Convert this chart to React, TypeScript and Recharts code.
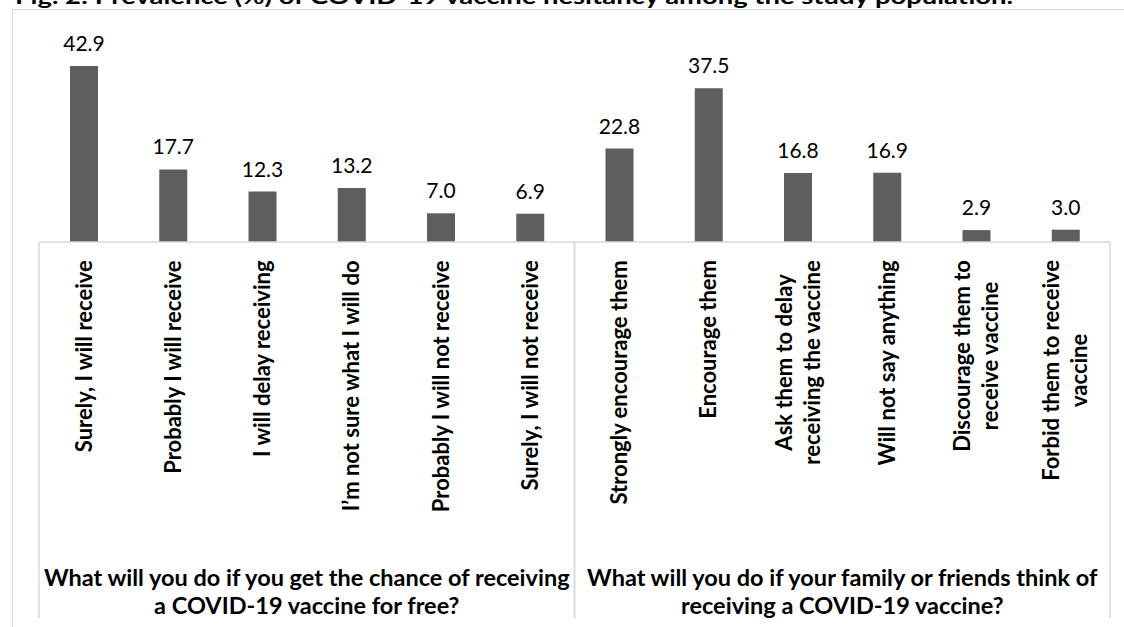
import { BarChart, Bar, XAxis, YAxis, LabelList } from 'recharts'

const categories: string[][] = [
  ['Surely, I will receive'],
  ['Probably I will receive'],
  ['I will delay receiving'],
  ['I\u2019m not sure what I will do'],
  ['Probably I will not receive'],
  ['Surely, I will not receive'],
  ['Strongly encourage them'],
  ['Encourage them'],
  ['Ask them to delay', 'receiving the vaccine'],
  ['Will not say anything'],
  ['Discourage them to', 'receive vaccine'],
  ['Forbid them to receive', 'vaccine'],
]

const values = [42.9, 17.7, 12.3, 13.2, 7.0, 6.9, 22.8, 37.5, 16.8, 16.9, 2.9, 3.0]

const groups: string[][] = [
  ['What will you do if you get the chance of receiving', 'a COVID-19 vaccine for free?'],
  ['What will you do if your family or friends think of', 'receiving a COVID-19 vaccine?'],
]
const groupSizes = [6, 6]

const title = 'Fig. 2: Prevalence (%) of COVID-19 vaccine hesitancy among the study population.'

const groupOf: number[] = groupSizes.flatMap((n, g) => Array(n).fill(g))

const data = categories.map((lines, i) => ({
  name: lines.join(' '),
  group: groups[groupOf[i]].join(' '),
  value: values[i],
}))

// layout
const W = 1124
const H = 627
const PLOT_LEFT = 39
const PLOT_RIGHT = 1110
const AXIS_Y = 242
const LINE_BOTTOM = 618
const LABEL_TOP = 260
const TICK_FS = 22
const GROUP_FS = 23.5
const FONT = 'Lato, "Noto Sans", sans-serif'
const GROUP_W = (PLOT_RIGHT - PLOT_LEFT) / groupSizes.length

let ctx: CanvasRenderingContext2D | null = null
const measure = (text: string, font: string) => {
  if (!ctx) ctx = document.createElement('canvas').getContext('2d')
  if (!ctx) return text.length * 10
  ctx.font = font
  return ctx.measureText(text).width
}

const CategoryTick = ({ x, payload }: any) => {
  const lines = categories[payload.index] ?? [String(payload.value)]
  const font = `bold ${TICK_FS}px Lato`
  const maxW = Math.max(...lines.map((l) => measure(l, font)))
  const mid = LABEL_TOP + maxW / 2
  const n = lines.length
  return (
    <g>
      {lines.map((l, k) => (
        <text
          key={k}
          transform={`translate(${x + (k - (n - 1) / 2) * 28}, ${mid}) rotate(-90)`}
          textAnchor="middle"
          dy="0.36em"
          fontFamily={FONT}
          fontWeight="bold"
          fontSize={TICK_FS}
          fill="#000"
        >
          {l}
        </text>
      ))}
    </g>
  )
}

const GroupTick = ({ x, payload }: any) => {
  const lines = groups[payload.index] ?? [String(payload.value)]
  return (
    <g>
      <line x1={x - GROUP_W / 2} x2={x - GROUP_W / 2} y1={AXIS_Y} y2={LINE_BOTTOM} stroke="#d9d9d9" strokeWidth={1.5} />
      <line x1={x + GROUP_W / 2} x2={x + GROUP_W / 2} y1={AXIS_Y} y2={LINE_BOTTOM} stroke="#d9d9d9" strokeWidth={1.5} />
      {lines.map((l, k) => (
        <text
          key={k}
          x={x}
          y={578 + k * 28}
          dy="0.36em"
          textAnchor="middle"
          fontFamily={FONT}
          fontWeight="bold"
          fontSize={GROUP_FS}
          fill="#000"
        >
          {l}
        </text>
      ))}
    </g>
  )
}

export default function App() {
  return (
    <div style={{ position: 'absolute', left: 0, top: 0, width: W, height: H, overflow: 'hidden', background: '#fff' }}>
      <div
        style={{
          position: 'absolute',
          left: 12,
          top: 9,
          width: W + 100,
          height: H + 100,
          border: '1.5px solid #d9d9d9',
        }}
      />
      <svg width={W} height={20} style={{ position: 'absolute', left: 0, top: 0 }}>
        <text x={15} y={4} fontFamily={FONT} fontWeight="bold" fontSize={21} textLength={998} lengthAdjust="spacingAndGlyphs">
          {title}
        </text>
      </svg>
      <div style={{ position: 'absolute', left: 0, top: 0 }}>
        <BarChart
          width={W}
          height={H}
          data={data}
          margin={{ top: 37, right: W - PLOT_RIGHT, left: PLOT_LEFT, bottom: 0 }}
        >
          <XAxis
            dataKey="name"
            interval={0}
            height={323}
            tickLine={false}
            axisLine={{ stroke: '#d9d9d9', strokeWidth: 1.5 }}
            tick={<CategoryTick />}
          />
          <XAxis
            xAxisId="grp"
            dataKey="group"
            allowDuplicatedCategory={false}
            interval={0}
            height={62}
            tickLine={false}
            axisLine={false}
            tick={<GroupTick />}
          />
          <YAxis hide domain={[0, 50]} />
          <Bar dataKey="value" fill="#5e5e5e" barSize={28} isAnimationActive={false}>
            <LabelList
              dataKey="value"
              position="top"
              offset={15}
              formatter={(v: any) => Number(v).toFixed(1)}
              style={{ fontFamily: FONT, fontSize: 21, fill: '#000' }}
            />
          </Bar>
        </BarChart>
      </div>
    </div>
  )
}
